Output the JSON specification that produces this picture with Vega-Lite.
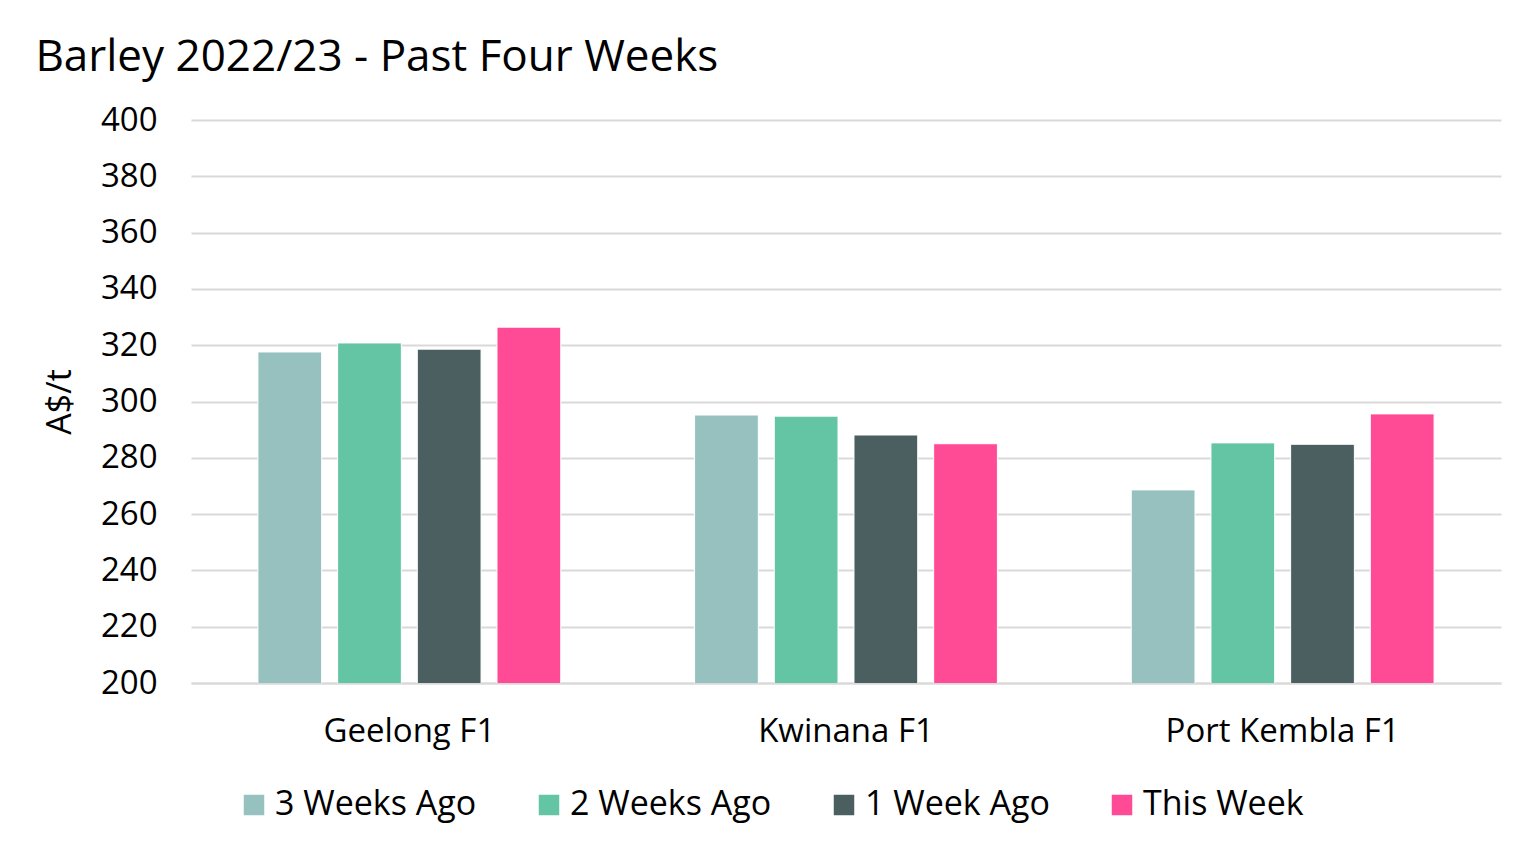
{
  "$schema": "https://vega.github.io/schema/vega-lite/v6.json",
  "width": 1310,
  "height": 563,
  "padding": {"left": 35, "top": 36, "right": 34, "bottom": 10},
  "background": "white",
  "title": {
    "text": "Barley 2022/23 - Past Four Weeks",
    "anchor": "start",
    "frame": "bounds",
    "dx": -8,
    "font": "Open Sans",
    "fontSize": 44,
    "fontWeight": "normal",
    "color": "#000000",
    "offset": 24
  },
  "data": {
    "values": [
      {"port": "Geelong F1", "period": "3 Weeks Ago", "price": 317.6},
      {"port": "Geelong F1", "period": "2 Weeks Ago", "price": 320.8},
      {"port": "Geelong F1", "period": "1 Week Ago", "price": 318.6},
      {"port": "Geelong F1", "period": "This Week", "price": 326.4},
      {"port": "Kwinana F1", "period": "3 Weeks Ago", "price": 295.2},
      {"port": "Kwinana F1", "period": "2 Weeks Ago", "price": 294.8},
      {"port": "Kwinana F1", "period": "1 Week Ago", "price": 288.1},
      {"port": "Kwinana F1", "period": "This Week", "price": 285.0},
      {"port": "Port Kembla F1", "period": "3 Weeks Ago", "price": 268.6},
      {"port": "Port Kembla F1", "period": "2 Weeks Ago", "price": 285.3},
      {"port": "Port Kembla F1", "period": "1 Week Ago", "price": 284.8},
      {"port": "Port Kembla F1", "period": "This Week", "price": 295.6}
    ]
  },
  "mark": {"type": "bar", "stroke": "white", "strokeWidth": 1, "clip": true},
  "encoding": {
    "x": {
      "field": "port",
      "type": "nominal",
      "sort": ["Geelong F1", "Kwinana F1", "Port Kembla F1"],
      "scale": {"paddingInner": 0.27, "paddingOuter": 0.135},
      "axis": {
        "title": null,
        "labelAngle": 0,
        "labelFont": "Open Sans",
        "labelFontSize": 33,
        "labelColor": "#000000",
        "labelPadding": 32,
        "labelLimit": 0,
        "ticks": false,
        "domainColor": "#d9d9d9",
        "domainWidth": 2
      }
    },
    "xOffset": {
      "field": "period",
      "type": "nominal",
      "sort": ["3 Weeks Ago", "2 Weeks Ago", "1 Week Ago", "This Week"],
      "scale": {"paddingInner": 0.2, "paddingOuter": 0.1}
    },
    "y": {
      "field": "price",
      "type": "quantitative",
      "scale": {"domain": [200, 400], "zero": false},
      "axis": {
        "title": "A$/t",
        "titleFont": "Open Sans",
        "titleFontSize": 34,
        "titleFontWeight": "normal",
        "titleColor": "#000000",
        "titlePadding": 23,
        "values": [200, 220, 240, 260, 280, 300, 320, 340, 360, 380, 400],
        "labelFont": "Open Sans",
        "labelFontSize": 33,
        "labelColor": "#000000",
        "labelPadding": 34,
        "ticks": false,
        "domain": false,
        "gridColor": "#d9d9d9",
        "gridWidth": 2
      }
    },
    "color": {
      "field": "period",
      "type": "nominal",
      "sort": ["3 Weeks Ago", "2 Weeks Ago", "1 Week Ago", "This Week"],
      "scale": {
        "domain": ["3 Weeks Ago", "2 Weeks Ago", "1 Week Ago", "This Week"],
        "range": ["#96C1BF", "#64C5A5", "#4B5F60", "#FF4B95"]
      },
      "legend": {
        "title": null,
        "orient": "none",
        "legendX": 46,
        "legendY": 668,
        "direction": "horizontal",
        "symbolType": "square",
        "symbolSize": 420,
        "symbolStrokeWidth": 0,
        "labelFont": "Open Sans",
        "labelFontSize": 34,
        "labelColor": "#000000",
        "labelLimit": 0,
        "labelOffset": 4,
        "columnPadding": 55
      }
    }
  },
  "config": {
    "view": {"stroke": null}
  }
}
